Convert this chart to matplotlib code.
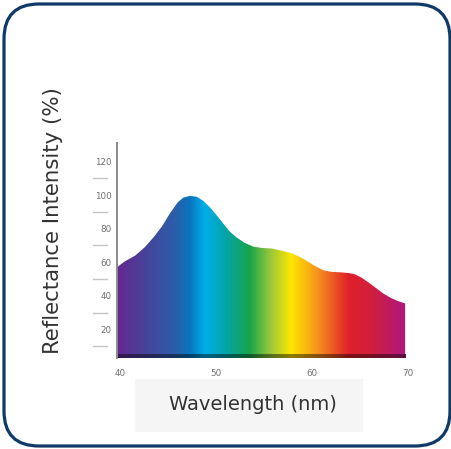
import matplotlib
matplotlib.use("Agg")
import matplotlib.pyplot as plt
import numpy as np
from matplotlib.colors import LinearSegmentedColormap
from matplotlib.patches import Polygon, FancyBboxPatch, Rectangle
import matplotlib.transforms as mtransforms

# data
wavelength = [397, 405, 416, 426, 436, 444, 452, 460, 466, 473, 480, 487, 494, 500, 507, 514, 521,
              530, 539, 548, 558, 568, 578, 587, 596, 604, 612, 620, 630, 638, 645, 652, 660, 667,
              674, 682, 690, 697]
reflectance = [57, 60.5, 64, 69, 75.5, 81.5, 89, 95.5, 98.5, 99.5, 99, 96.5, 92.5, 88.5, 83.5, 78.5, 75,
               71.5, 69.3, 68.5, 68.2, 67, 65.5, 63.3, 60.3, 57.5, 55.2, 54.3, 54, 53.6, 52.8, 50.7, 47.5,
               44.5, 41.5, 38.8, 36.8, 35.5]
x_ticks = [400, 500, 600, 700]
x_labels = ["40", "50", "60", "70"]
y_ticks = [20, 40, 60, 80, 100, 120]
y_dashes = [10, 30, 50, 70, 90, 110]

# spectrum colours
stops = [397, 430, 458, 472, 488, 512, 535, 557, 578, 605, 638, 660, 697]
stop_colors = ["#64298f", "#44469c", "#2a5eab", "#0a74bd", "#00aeea", "#06a4a0", "#18a54a",
               "#9cc93b", "#ffe600", "#f7941d", "#e0202a", "#d21f3c", "#b0177f"]
pos = [(s - stops[0]) / (stops[-1] - stops[0]) for s in stops]
cmap = LinearSegmentedColormap.from_list("spec", list(zip(pos, stop_colors)))

fig = plt.figure(figsize=(4.52, 4.49), dpi=100)

# background: rounded frame + label box
bg = fig.add_axes([0, 0, 1, 1], zorder=0)
bg.set_xlim(0, 452)
bg.set_ylim(449, 0)
bg.axis("off")
frame = FancyBboxPatch((4 + 35, 4 + 35), 446 - 70, 442 - 70,
                       boxstyle="round,pad=35,rounding_size=35",
                       facecolor="white", edgecolor="#0f3a68", linewidth=2.3)
bg.add_patch(frame)
bg.add_patch(Rectangle((135, 379), 228, 53, facecolor="#f5f5f5", edgecolor="none"))

ax = fig.add_axes([117 / 452, 91 / 449, 295.8 / 452, 215 / 449], zorder=1)
ax.patch.set_alpha(0)
xmin, xmax = 397, 705
ybot, ylow, ytop = 3.0, 4.8, 131
ax.set_xlim(xmin, xmax)
ax.set_ylim(ybot, ytop)

grad = np.linspace(0, 1, 512).reshape(1, -1)
poly = Polygon(list(zip(wavelength, reflectance)) + [(wavelength[-1], ylow), (wavelength[0], ylow)],
               closed=True, facecolor="none", edgecolor="none")
ax.add_patch(poly)
im = ax.imshow(grad, cmap=cmap, aspect="auto", extent=[wavelength[0], wavelength[-1], ylow, 110],
               interpolation="bilinear", zorder=2)
im.set_clip_path(poly)

# dark strip at the bottom
dark = cmap(grad)[..., :3] * 0.55
ax.imshow(dark, aspect="auto", extent=[wavelength[0], wavelength[-1], ybot, ylow],
          interpolation="bilinear", zorder=2)

for s in ["top", "right", "bottom"]:
    ax.spines[s].set_visible(False)
ax.spines["left"].set_color("#8a8a8a")
ax.spines["left"].set_linewidth(1.4)

ax.set_xticks(x_ticks)
ax.set_xticklabels(x_labels)
ax.set_yticks(y_ticks)
ax.tick_params(axis="both", length=0, labelsize=6.3, labelcolor="#707070")
ax.tick_params(axis="x", pad=8)
ax.tick_params(axis="y", pad=4)

trans = mtransforms.blended_transform_factory(ax.transAxes, ax.transData)
for v in y_dashes:
    ax.plot([-0.081, -0.034], [v, v], color="#c4c4c4", lw=1.0, transform=trans, clip_on=False)

fig.text(53 / 452, 1 - 221 / 449, "Reflectance Intensity (%)", rotation=90,
         ha="center", va="center", fontsize=15.3, color="#333333", family="DejaVu Sans")
fig.text(253 / 452, 1 - 405 / 449, "Wavelength (nm)", ha="center", va="center",
         fontsize=14, color="#333333", family="DejaVu Sans")

fig.savefig("out.png", dpi=100)
